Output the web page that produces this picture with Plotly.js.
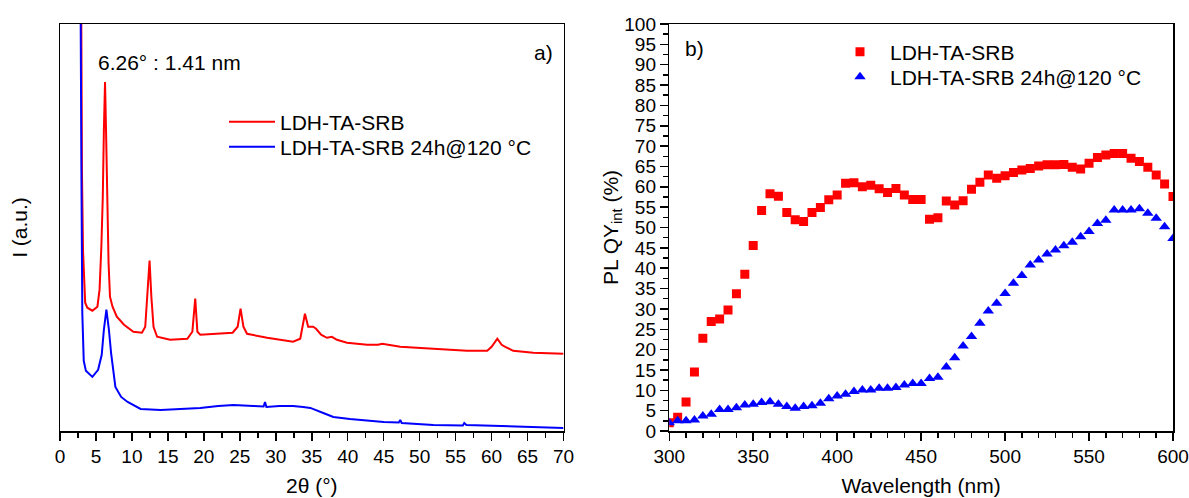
<!DOCTYPE html>
<html>
<head>
<meta charset="utf-8">
<script src="https://cdn.plot.ly/plotly-3.0.1.min.js"></script>
<style>html,body{margin:0;padding:0;background:#fff;}#chart{width:1189px;height:498px;}</style>
</head>
<body>
<div id="chart"></div>
<script>
// ---- Panel a) XRD patterns (2theta in degrees, intensity in arbitrary units) ----
var redTheta = [2.85, 2.95, 3.05, 3.2, 3.5, 3.8, 4.5, 5.2, 5.5, 5.75, 5.95, 6.1, 6.26, 6.4, 6.55, 6.75, 6.95, 7.3, 7.9, 8.9, 10.2, 11.4, 11.85, 12.15, 12.45, 12.7, 13.0, 13.5, 15.3, 17.7, 18.4, 18.8, 19.1, 19.5, 21.9, 24.0, 24.7, 25.1, 25.5, 26.0, 28.8, 32.4, 33.4, 34.05, 34.5, 35.2, 35.6, 36.3, 37.1, 37.8, 38.5, 39.9, 42.7, 44.2, 44.8, 45.6, 47.3, 51.9, 56.6, 59.4, 60.0, 60.8, 61.4, 61.9, 63.0, 65.8, 70.0];
var redI = [6000, 4200, 2600, 1800, 1280, 1230, 1200, 1240, 1410, 1840, 2340, 3000, 3480, 3000, 2340, 1680, 1340, 1240, 1140, 1060, 990, 980, 1040, 1340, 1700, 1340, 1040, 940, 910, 920, 990, 1320, 990, 960, 970, 980, 1040, 1220, 1040, 970, 930, 890, 920, 1170, 1040, 1040, 1020, 960, 930, 940, 910, 880, 860, 860, 870, 860, 840, 820, 800, 800, 840, 920, 860, 840, 800, 780, 770];
var blueTheta = [2.75, 2.85, 2.98, 3.1, 3.3, 3.6, 4.5, 5.3, 5.8, 6.1, 6.45, 6.8, 7.1, 7.7, 8.5, 9.4, 11.2, 14.0, 16.3, 19.5, 22.0, 24.1, 26.9, 28.3, 28.5, 28.7, 30.5, 32.4, 33.8, 34.8, 36.6, 38.0, 40.3, 45.0, 47.1, 47.3, 47.5, 51.9, 56.0, 56.2, 56.5, 61.2, 65.8, 70.0];
var blueI = [6000, 4000, 2500, 1180, 700, 600, 540, 610, 760, 1010, 1210, 1010, 780, 440, 340, 290, 220, 210, 220, 230, 250, 260, 250, 245, 290, 240, 250, 250, 240, 230, 180, 140, 120, 90, 85, 110, 80, 60, 55, 80, 60, 50, 40, 30];

// ---- Panel b) PL quantum yield vs wavelength ----
var wavelength = [300, 305, 310, 315, 320, 325, 330, 335, 340, 345, 350, 355, 360, 365, 370, 375, 380, 385, 390, 395, 400, 405, 410, 415, 420, 425, 430, 435, 440, 445, 450, 455, 460, 465, 470, 475, 480, 485, 490, 495, 500, 505, 510, 515, 520, 525, 530, 535, 540, 545, 550, 555, 560, 565, 570, 575, 580, 585, 590, 595, 600];
var qyRed = [2.0, 3.4, 7.1, 14.5, 22.8, 26.9, 27.5, 29.7, 33.7, 38.5, 45.6, 54.2, 58.3, 57.7, 53.7, 51.9, 51.5, 53.7, 54.9, 56.8, 58.0, 60.9, 61.0, 60.0, 60.4, 59.5, 58.6, 59.6, 58.0, 56.9, 56.9, 52.0, 52.4, 56.5, 55.5, 56.6, 59.4, 61.1, 62.9, 62.1, 62.7, 63.5, 64.1, 64.5, 65.1, 65.4, 65.4, 65.5, 64.8, 64.4, 65.8, 67.2, 67.8, 68.2, 68.2, 67.0, 66.2, 64.8, 62.9, 60.7, 57.6];
var qyBlue = [2.0, 2.5, 2.5, 2.7, 3.7, 4.1, 5.3, 5.3, 5.7, 6.4, 6.6, 7.0, 7.2, 6.6, 6.0, 5.6, 6.0, 6.2, 6.8, 7.9, 8.6, 9.0, 9.7, 10.1, 10.1, 10.5, 10.5, 10.7, 11.3, 11.7, 11.7, 12.9, 13.2, 15.7, 18.0, 20.9, 23.2, 26.5, 29.5, 31.4, 33.8, 36.3, 38.2, 40.8, 42.0, 43.5, 44.5, 45.5, 46.4, 47.7, 49.0, 51.0, 51.8, 54.3, 54.3, 54.3, 54.6, 53.5, 52.3, 50.2, 47.3];

var seriesNames = ['LDH-TA-SRB', 'LDH-TA-SRB 24h@120 °C'];
var RED = '#FF0000', BLUE = '#0000FF';
var FONT = 'Liberation Sans, Arial, sans-serif';

// page pixel -> paper fraction (plot area: x 60..1173, y 24..431)
function fx(px) { return (px - 60) / 1113; }
function fy(py) { return (431 - py) / 407; }

var traces = [
  {x: redTheta, y: redI, type: 'scatter', mode: 'lines', name: seriesNames[0],
   line: {color: RED, width: 2}, xaxis: 'x', yaxis: 'y', legend: 'legend'},
  {x: blueTheta, y: blueI, type: 'scatter', mode: 'lines', name: seriesNames[1],
   line: {color: BLUE, width: 2}, xaxis: 'x', yaxis: 'y', legend: 'legend2'},
  {x: wavelength, y: qyRed, type: 'scatter', mode: 'markers', name: seriesNames[0],
   marker: {color: RED, symbol: 'square', size: 9}, xaxis: 'x2', yaxis: 'y2', legend: 'legend3'},
  {x: wavelength, y: qyBlue, type: 'scatter', mode: 'markers', name: seriesNames[1],
   marker: {color: BLUE, symbol: 'triangle-up', size: 10}, xaxis: 'x2', yaxis: 'y2', legend: 'legend4'}
];

var axisLine = {showline: true, linecolor: '#000', linewidth: 1.5, mirror: true,
  showgrid: false, zeroline: false, tickcolor: '#000', tickwidth: 1.5,
  tickfont: {family: FONT, size: 19, color: '#000'}};

function legendAt(px, py, itemwidth) {
  return {x: fx(px), xanchor: 'left', y: fy(py), yanchor: 'middle',
    bgcolor: 'rgba(0,0,0,0)', borderwidth: 0, itemwidth: itemwidth,
    font: {family: FONT, size: 21, color: '#000'}};
}

var layout = {
  width: 1189, height: 498,
  margin: {l: 60, r: 16, t: 24, b: 67},
  paper_bgcolor: '#fff', plot_bgcolor: '#fff',
  font: {family: FONT, color: '#000'},
  xaxis: Object.assign({}, axisLine, {
    domain: [0, 0.4524], anchor: 'y', range: [0, 70], tick0: 0, dtick: 5,
    ticks: 'outside', ticklen: 8,
    minor: {dtick: 2.5, ticks: 'outside', ticklen: 5, tickwidth: 1.5, tickcolor: '#000'},
    title: {text: '2θ (°)', font: {family: FONT, size: 21}, standoff: 12}
  }),
  yaxis: Object.assign({}, axisLine, {
    domain: [0, 1], anchor: 'x', range: [0, 4060], ticks: '', showticklabels: false,
    title: {text: 'I (a.u.)', font: {family: FONT, size: 21}, standoff: 25}
  }),
  xaxis2: Object.assign({}, axisLine, {
    domain: [0.5474, 1], anchor: 'y2', range: [300, 600], tick0: 300, dtick: 50,
    ticks: 'outside', ticklen: 8,
    minor: {dtick: 10, ticks: 'outside', ticklen: 5, tickwidth: 1.5, tickcolor: '#000'},
    title: {text: 'Wavelength (nm)', font: {family: FONT, size: 21}, standoff: 12}
  }),
  yaxis2: Object.assign({}, axisLine, {
    domain: [0, 1], anchor: 'x2', range: [0, 100], tick0: 0, dtick: 5,
    ticks: 'outside', ticklen: 8,
    minor: {dtick: 2.5, ticks: 'outside', ticklen: 5, tickwidth: 1.5, tickcolor: '#000'},
    title: {text: 'PL QY<sub>int</sub> (%)', font: {family: FONT, size: 21}, standoff: 0}
  }),
  showlegend: true,
  legend: legendAt(224, 122, 46),
  legend2: legendAt(224, 147, 46),
  legend3: legendAt(830, 52, 50),
  legend4: legendAt(830, 77, 50),
  annotations: [
    {xref: 'x', yref: 'paper', x: 5.0, y: fy(62), xanchor: 'left', yanchor: 'middle',
     text: '6.26° : 1.41 nm', showarrow: false, font: {family: FONT, size: 21, color: '#000'}},
    {xref: 'x', yref: 'paper', x: 68.8, y: fy(53), xanchor: 'right', yanchor: 'middle',
     text: 'a)', showarrow: false, font: {family: FONT, size: 21, color: '#000'}},
    {xref: 'x2', yref: 'paper', x: 308, y: fy(48), xanchor: 'left', yanchor: 'middle',
     text: 'b)', showarrow: false, font: {family: FONT, size: 21, color: '#000'}}
  ]
};

Plotly.newPlot('chart', traces, layout, {displayModeBar: false, staticPlot: true});
</script>
</body>
</html>
